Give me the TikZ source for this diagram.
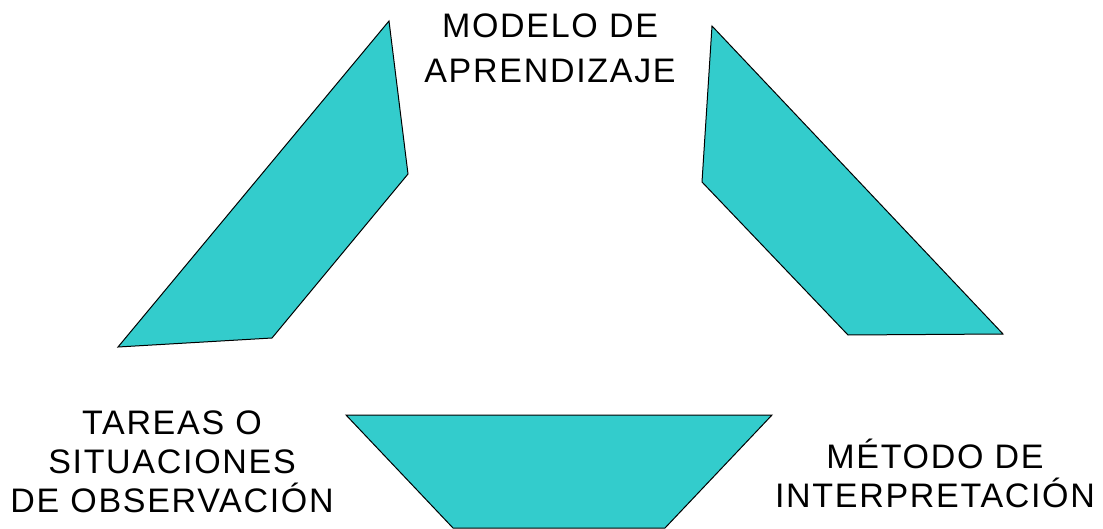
\documentclass[tikz,border=0pt]{standalone}
\usepackage{fontspec}
\setmainfont{Liberation Sans}[LetterSpace=5]
\definecolor{turquesa}{HTML}{33CCCC}
\tikzset{
    pieza/.style = {fill=turquesa, draw=black, line width=1pt, line join=miter},
    rotulo/.style = {align=center, inner sep=0pt, font=\fontsize{34}{39}\selectfont}
}
\begin{document}
\begin{tikzpicture}[x=1pt, y=-1pt]
    \useasboundingbox (0,0) rectangle (1103,529);
    % piezas del ciclo
    \filldraw[pieza] (389,21) -- (408,174) -- (272,338) -- (118,347) -- cycle;
    \filldraw[pieza] (712,26) -- (1003,334) -- (848,335) -- (702,182) -- cycle;
    \filldraw[pieza] (346,415) -- (772,415) -- (665,528) -- (453,528) -- cycle;
    % rotulos
    \node[rotulo, font=\fontsize{34}{45}\selectfont] (modelo) at (550,48) {MODELO DE\\APRENDIZAJE};
    \node[rotulo] (tareas) at (172,462) {TAREAS O\\SITUACIONES\\DE OBSERVACIÓN};
    \node[rotulo] (metodo) at (935,473) {MÉTODO DE\\INTERPRETACIÓN};
\end{tikzpicture}
\end{document}
